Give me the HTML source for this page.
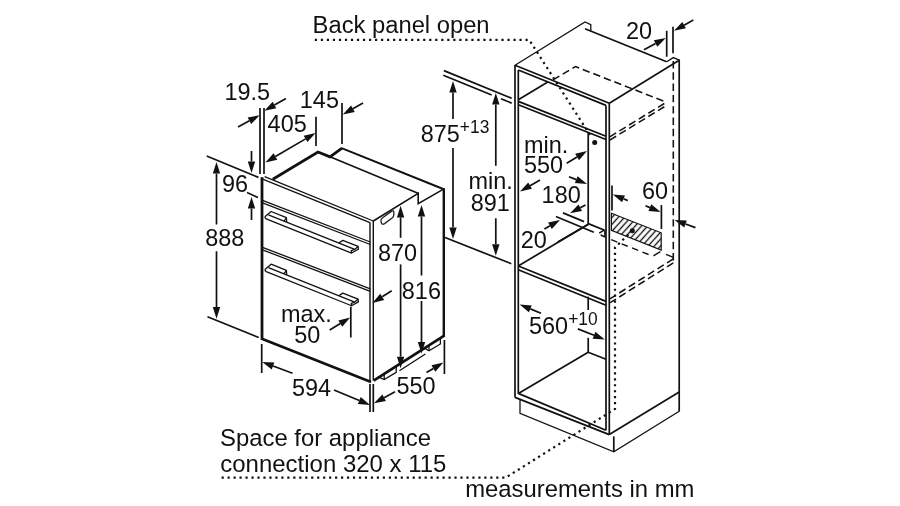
<!DOCTYPE html>
<html><head><meta charset="utf-8"><title>Oven installation dimensions</title>
<style>
html,body{margin:0;padding:0;background:#fff;}
svg{display:block;}
text{font-family:"Liberation Sans",Arial,Helvetica,sans-serif;fill:#111;}
</style></head>
<body>
<svg width="900" height="506" viewBox="0 0 900 506">
<rect width="900" height="506" fill="#fff"/>
<line x1="262" y1="177.2" x2="262" y2="339.8" stroke="#111" stroke-width="2.8" stroke-linecap="butt"/>
<line x1="261.2" y1="338.6" x2="371" y2="382" stroke="#111" stroke-width="2.7" stroke-linecap="butt"/>
<line x1="370" y1="222.4" x2="370" y2="381.5" stroke="#111" stroke-width="1.4" stroke-linecap="butt"/>
<line x1="373.3" y1="221" x2="373.3" y2="380.5" stroke="#111" stroke-width="1.4" stroke-linecap="butt"/>
<line x1="264.6" y1="176.6" x2="373.3" y2="221" stroke="#111" stroke-width="1.3" stroke-linecap="butt"/>
<line x1="262" y1="178.9" x2="370" y2="222.7" stroke="#111" stroke-width="1.3" stroke-linecap="butt"/>
<line x1="262.5" y1="200.4" x2="370.3" y2="242.01" stroke="#111" stroke-width="1.3" stroke-linecap="butt"/>
<line x1="262.5" y1="202.9" x2="370.3" y2="244.51" stroke="#111" stroke-width="1.3" stroke-linecap="butt"/>
<line x1="262.5" y1="247.3" x2="370.3" y2="288.91" stroke="#111" stroke-width="1.3" stroke-linecap="butt"/>
<line x1="262.5" y1="249.8" x2="370.3" y2="291.41" stroke="#111" stroke-width="1.3" stroke-linecap="butt"/>
<polyline points="272.8,179.2 318,152 330,156.8 342,148.2" fill="none" stroke="#111" stroke-width="2.8" stroke-linejoin="miter"/>
<polyline points="341.6,148.2 443.2,189" fill="none" stroke="#111" stroke-width="1.9" stroke-linejoin="miter"/>
<line x1="330" y1="156.8" x2="418" y2="193.2" stroke="#111" stroke-width="1.55" stroke-linecap="butt"/>
<polyline points="373.3,221 418.2,193.4 418.2,203.6 443.5,189.2" fill="none" stroke="#111" stroke-width="1.55" stroke-linejoin="miter"/>
<line x1="443.8" y1="188.2" x2="443.8" y2="336" stroke="#111" stroke-width="2.4" stroke-linecap="butt"/>
<line x1="373.6" y1="380.6" x2="444.6" y2="335.4" stroke="#111" stroke-width="2.8" stroke-linecap="butt"/>
<polyline points="379.4,377.4 384.2,379.6 396.2,372.4 396.2,366.6" fill="none" stroke="#111" stroke-width="1.3" stroke-linejoin="miter"/>
<line x1="384.2" y1="379.6" x2="384.2" y2="374.2" stroke="#111" stroke-width="1.3" stroke-linecap="butt"/>
<polyline points="425,348.4 429,350.8 440.4,344 440.4,338.4" fill="none" stroke="#111" stroke-width="1.3" stroke-linejoin="miter"/>
<line x1="429" y1="350.8" x2="429" y2="345.8" stroke="#111" stroke-width="1.3" stroke-linecap="butt"/>
<line x1="399.4" y1="370.8" x2="425.4" y2="354" stroke="#111" stroke-width="1.3" stroke-linecap="butt"/>
<path d="M382.6,217.8 L391.4,211.4 Q393.8,209.8 393.9,212.6 L393.7,215.4 Q393.6,216.8 392.4,217.7 L384.6,223.6 Q382,225.2 381.3,222.8 L380.9,220.6 Q380.8,219.2 382.6,217.8 Z" fill="none" stroke="#222" stroke-width="1.3"/>
<polyline points="351.6,253.04 266.2,218.88 265.2,218 265.2,216.6 271.1,211.5 286.4,217.7 286.7,222.18" fill="none" stroke="#111" stroke-width="1.3" stroke-linejoin="round"/>
<line x1="268.4" y1="214.86" x2="354.7" y2="249.38" stroke="#111" stroke-width="1.3" stroke-linecap="butt"/>
<line x1="283.9" y1="221.06" x2="286.2" y2="218.2" stroke="#111" stroke-width="1.3" stroke-linecap="butt"/>
<polyline points="338.9,243.06 342.8,240.4 358.1,246.4 358.4,249.2 351.6,253.04 351.3,250.6 354.7,249.38" fill="none" stroke="#111" stroke-width="1.3" stroke-linejoin="round"/>
<line x1="354.7" y1="249.38" x2="358.1" y2="246.6" stroke="#111" stroke-width="1.3" stroke-linecap="butt"/>
<polyline points="351.6,305.74 266.2,271.58 265.2,270.7 265.2,269.3 271.1,264.2 286.4,270.4 286.7,274.88" fill="none" stroke="#111" stroke-width="1.3" stroke-linejoin="round"/>
<line x1="268.4" y1="267.56" x2="354.7" y2="302.08" stroke="#111" stroke-width="1.3" stroke-linecap="butt"/>
<line x1="283.9" y1="273.76" x2="286.2" y2="270.9" stroke="#111" stroke-width="1.3" stroke-linecap="butt"/>
<polyline points="338.9,295.76 342.8,293.1 358.1,299.1 358.4,301.9 351.6,305.74 351.3,303.3 354.7,302.08" fill="none" stroke="#111" stroke-width="1.3" stroke-linejoin="round"/>
<line x1="354.7" y1="302.08" x2="358.1" y2="299.3" stroke="#111" stroke-width="1.3" stroke-linecap="butt"/>
<line x1="206.7" y1="156" x2="258.4" y2="177.4" stroke="#111" stroke-width="1.7" stroke-linecap="butt"/>
<line x1="207.5" y1="316.7" x2="258.7" y2="337.5" stroke="#111" stroke-width="1.7" stroke-linecap="butt"/>
<polygon points="216.5,162 220.2,173.6 212.8,173.6" fill="#111"/>
<line x1="216.5" y1="224.5" x2="216.5" y2="173.6" stroke="#111" stroke-width="1.7" stroke-linecap="butt"/>
<polygon points="216.5,318.7 212.8,307.1 220.2,307.1" fill="#111"/>
<line x1="216.5" y1="251.3" x2="216.5" y2="307.1" stroke="#111" stroke-width="1.7" stroke-linecap="butt"/>
<polygon points="251.5,173 247.8,161.4 255.2,161.4" fill="#111"/>
<line x1="251.5" y1="151" x2="251.5" y2="161.4" stroke="#111" stroke-width="1.7" stroke-linecap="butt"/>
<polygon points="251.5,197 255.2,208.6 247.8,208.6" fill="#111"/>
<line x1="251.5" y1="220" x2="251.5" y2="208.6" stroke="#111" stroke-width="1.7" stroke-linecap="butt"/>
<line x1="247" y1="192.6" x2="258" y2="197.6" stroke="#111" stroke-width="1.7" stroke-linecap="butt"/>
<line x1="260" y1="108" x2="260" y2="174" stroke="#111" stroke-width="1.7" stroke-linecap="butt"/>
<line x1="264" y1="108" x2="264" y2="174" stroke="#111" stroke-width="1.7" stroke-linecap="butt"/>
<polygon points="259.6,115.3 251.16,124.08 247.64,117.57" fill="#111"/>
<line x1="238" y1="127" x2="249.4" y2="120.82" stroke="#111" stroke-width="1.7" stroke-linecap="butt"/>
<polygon points="264.4,110.7 272.65,101.74 276.31,108.18" fill="#111"/>
<line x1="286" y1="98.4" x2="274.48" y2="104.96" stroke="#111" stroke-width="1.7" stroke-linecap="butt"/>
<polygon points="315.6,133 307.46,142.05 303.72,135.67" fill="#111"/>
<polygon points="265.4,162.4 273.54,153.35 277.28,159.73" fill="#111"/>
<line x1="275.41" y1="156.54" x2="305.59" y2="138.86" stroke="#111" stroke-width="1.7" stroke-linecap="butt"/>
<line x1="316" y1="116.7" x2="316" y2="146" stroke="#111" stroke-width="1.7" stroke-linecap="butt"/>
<line x1="342" y1="103" x2="342" y2="144" stroke="#111" stroke-width="1.7" stroke-linecap="butt"/>
<polygon points="342.8,114.4 351.08,105.48 354.72,111.92" fill="#111"/>
<line x1="363" y1="103" x2="352.9" y2="108.7" stroke="#111" stroke-width="1.7" stroke-linecap="butt"/>
<line x1="350.8" y1="306.7" x2="350.8" y2="337.5" stroke="#111" stroke-width="1.7" stroke-linecap="butt"/>
<polygon points="350.2,317.5 342.22,326.7 338.37,320.38" fill="#111"/>
<line x1="329.7" y1="330" x2="340.3" y2="323.54" stroke="#111" stroke-width="1.7" stroke-linecap="butt"/>
<polygon points="372.4,303 380.23,293.67 384.18,299.93" fill="#111"/>
<line x1="391.7" y1="290.8" x2="382.21" y2="296.8" stroke="#111" stroke-width="1.7" stroke-linecap="butt"/>
<line x1="261.7" y1="344" x2="261.7" y2="373" stroke="#111" stroke-width="1.7" stroke-linecap="butt"/>
<polygon points="262.2,362 274.36,362.59 271.78,369.52" fill="#111"/>
<line x1="292.5" y1="373.3" x2="273.07" y2="366.05" stroke="#111" stroke-width="1.7" stroke-linecap="butt"/>
<polygon points="370,405 357.87,403.95 360.72,397.12" fill="#111"/>
<line x1="334" y1="390" x2="359.29" y2="400.54" stroke="#111" stroke-width="1.7" stroke-linecap="butt"/>
<line x1="370" y1="384" x2="370" y2="412" stroke="#111" stroke-width="1.7" stroke-linecap="butt"/>
<line x1="373.3" y1="384" x2="373.3" y2="412" stroke="#111" stroke-width="1.7" stroke-linecap="butt"/>
<polygon points="374,403.3 382.36,394.45 385.94,400.93" fill="#111"/>
<line x1="395" y1="391.7" x2="384.15" y2="397.69" stroke="#111" stroke-width="1.7" stroke-linecap="butt"/>
<polygon points="443.4,362.6 435.26,371.66 431.52,365.27" fill="#111"/>
<line x1="426.5" y1="372.5" x2="433.39" y2="368.46" stroke="#111" stroke-width="1.7" stroke-linecap="butt"/>
<line x1="444.4" y1="340" x2="444.4" y2="374" stroke="#111" stroke-width="1.7" stroke-linecap="butt"/>
<polygon points="400.6,205.8 404.3,217.4 396.9,217.4" fill="#111"/>
<line x1="400.6" y1="237.8" x2="400.6" y2="217.4" stroke="#111" stroke-width="1.7" stroke-linecap="butt"/>
<polygon points="400.6,368.3 396.9,356.7 404.3,356.7" fill="#111"/>
<line x1="400.6" y1="264.4" x2="400.6" y2="356.7" stroke="#111" stroke-width="1.7" stroke-linecap="butt"/>
<polygon points="421.5,205 425.2,216.6 417.8,216.6" fill="#111"/>
<line x1="421.5" y1="275.5" x2="421.5" y2="216.6" stroke="#111" stroke-width="1.7" stroke-linecap="butt"/>
<polygon points="421.5,353.6 417.8,342 425.2,342" fill="#111"/>
<line x1="421.5" y1="301" x2="421.5" y2="342" stroke="#111" stroke-width="1.7" stroke-linecap="butt"/>
<line x1="443.9" y1="70.6" x2="511.7" y2="98.3" stroke="#111" stroke-width="1.7" stroke-linecap="butt"/>
<line x1="443.3" y1="75.3" x2="491.7" y2="95" stroke="#111" stroke-width="1.7" stroke-linecap="butt"/>
<line x1="501" y1="98.8" x2="511.7" y2="103.1" stroke="#111" stroke-width="1.7" stroke-linecap="butt"/>
<polygon points="453,81 456.7,92.6 449.3,92.6" fill="#111"/>
<line x1="453" y1="119" x2="453" y2="92.6" stroke="#111" stroke-width="1.7" stroke-linecap="butt"/>
<polygon points="453,239 449.3,227.4 456.7,227.4" fill="#111"/>
<line x1="453" y1="148" x2="453" y2="227.4" stroke="#111" stroke-width="1.7" stroke-linecap="butt"/>
<polygon points="495.8,93 499.5,104.6 492.1,104.6" fill="#111"/>
<line x1="495.8" y1="165.8" x2="495.8" y2="104.6" stroke="#111" stroke-width="1.7" stroke-linecap="butt"/>
<polygon points="495.8,255.8 492.1,244.2 499.5,244.2" fill="#111"/>
<line x1="495.8" y1="218.3" x2="495.8" y2="244.2" stroke="#111" stroke-width="1.7" stroke-linecap="butt"/>
<line x1="445" y1="237.5" x2="511.3" y2="263.7" stroke="#111" stroke-width="1.7" stroke-linecap="butt"/>
<line x1="515" y1="65" x2="515" y2="397.4" stroke="#111" stroke-width="1.7" stroke-linecap="butt"/>
<line x1="518.3" y1="70" x2="518.3" y2="394" stroke="#111" stroke-width="1.7" stroke-linecap="butt"/>
<polyline points="515,65.3 585,22 590.8,24.6 590.8,31.2" fill="none" stroke="#111" stroke-width="1.3" stroke-linejoin="miter"/>
<line x1="585" y1="28.7" x2="666.7" y2="61.7" stroke="#111" stroke-width="1.7" stroke-linecap="butt"/>
<polyline points="666.7,61.7 673.3,57.6 679.2,60.2" fill="none" stroke="#111" stroke-width="1.3" stroke-linejoin="miter"/>
<line x1="679.2" y1="59.6" x2="679.2" y2="411.4" stroke="#111" stroke-width="1.7" stroke-linecap="butt"/>
<line x1="679.2" y1="60.2" x2="609.3" y2="103.3" stroke="#111" stroke-width="1.7" stroke-linecap="butt"/>
<line x1="515" y1="65.3" x2="609.3" y2="103.3" stroke="#111" stroke-width="1.7" stroke-linecap="butt"/>
<line x1="518.3" y1="70" x2="606" y2="105.4" stroke="#111" stroke-width="1.7" stroke-linecap="butt"/>
<line x1="606" y1="105.4" x2="606" y2="430.2" stroke="#111" stroke-width="1.7" stroke-linecap="butt"/>
<line x1="609.3" y1="103.3" x2="609.3" y2="434.6" stroke="#111" stroke-width="1.7" stroke-linecap="butt"/>
<line x1="518.3" y1="101.4" x2="606" y2="136.2" stroke="#111" stroke-width="1.7" stroke-linecap="butt"/>
<line x1="518.3" y1="104.8" x2="606" y2="139.5" stroke="#111" stroke-width="1.7" stroke-linecap="butt"/>
<line x1="518.3" y1="99.8" x2="547.8" y2="82" stroke="#111" stroke-width="1.7" stroke-linecap="butt"/>
<polyline points="553,79.8 575.4,66.6 666.4,102.2" fill="none" stroke="#111" stroke-width="1.55" stroke-linejoin="miter" stroke-dasharray="7.4 3.9"/>
<line x1="609.8" y1="136.8" x2="666.4" y2="102.2" stroke="#111" stroke-width="1.55" stroke-linecap="butt" stroke-dasharray="7.4 3.9"/>
<line x1="609.8" y1="140.1" x2="666.4" y2="105.5" stroke="#111" stroke-width="1.55" stroke-linecap="butt" stroke-dasharray="7.4 3.9"/>
<line x1="673.3" y1="61" x2="673.3" y2="263.5" stroke="#111" stroke-width="1.55" stroke-linecap="butt" stroke-dasharray="7.4 3.9"/>
<polyline points="314.8,39.8 529.2,39.8 592,138.2" fill="none" stroke="#111" stroke-width="2.2" stroke-linejoin="miter" stroke-dasharray="2.2 3.82"/>
<line x1="588.2" y1="132" x2="588.2" y2="224.4" stroke="#111" stroke-width="1.7" stroke-linecap="butt"/>
<line x1="588.2" y1="296.7" x2="588.2" y2="310" stroke="#111" stroke-width="1.7" stroke-linecap="butt"/>
<line x1="588.2" y1="337.8" x2="588.2" y2="352.2" stroke="#111" stroke-width="1.7" stroke-linecap="butt"/>
<circle cx="594.7" cy="142.6" r="2.5" fill="#111"/>
<line x1="518.6" y1="265.8" x2="588.3" y2="224.2" stroke="#111" stroke-width="1.7" stroke-linecap="butt"/>
<line x1="518.3" y1="266" x2="606" y2="301.4" stroke="#111" stroke-width="1.7" stroke-linecap="butt"/>
<line x1="518.3" y1="269.8" x2="606" y2="305.2" stroke="#111" stroke-width="1.7" stroke-linecap="butt"/>
<line x1="588.3" y1="223.6" x2="604.6" y2="230.3" stroke="#111" stroke-width="1.7" stroke-linecap="butt"/>
<line x1="604.2" y1="230.2" x2="599.2" y2="233.2" stroke="#111" stroke-width="1.4" stroke-linecap="butt"/>
<line x1="600.6" y1="235" x2="605.3" y2="237" stroke="#111" stroke-width="1.4" stroke-linecap="butt"/>
<line x1="604.8" y1="230.3" x2="604.9" y2="236.8" stroke="#111" stroke-width="1.4" stroke-linecap="butt"/>
<line x1="611.2" y1="239.7" x2="652.8" y2="256.2" stroke="#111" stroke-width="1.4" stroke-linecap="butt" stroke-dasharray="6.6 4.6"/>
<line x1="653.4" y1="255.9" x2="660.4" y2="251.6" stroke="#111" stroke-width="1.4" stroke-linecap="butt"/>
<line x1="666" y1="254.4" x2="673.3" y2="257.3" stroke="#111" stroke-width="1.4" stroke-linecap="butt"/>
<line x1="673.3" y1="258.9" x2="610" y2="298.8" stroke="#111" stroke-width="1.55" stroke-linecap="butt" stroke-dasharray="7.4 3.9"/>
<line x1="673.3" y1="262.9" x2="610.2" y2="302.7" stroke="#111" stroke-width="1.55" stroke-linecap="butt" stroke-dasharray="7.4 3.9"/>
<defs><pattern id="h" width="4.6" height="4.6" patternUnits="userSpaceOnUse" patternTransform="rotate(-48)"><line x1="-1" y1="2.3" x2="5.6" y2="2.3" stroke="#111" stroke-width="1.35"/></pattern></defs>
<polygon points="611.4,213.3 661.2,232.8 661.2,250 611.4,230.4" fill="url(#h)" stroke="#111" stroke-width="1.2" stroke-linejoin="miter"/>
<circle cx="632.3" cy="230.7" r="2.5" fill="#111"/>
<polyline points="221.6,477.7 505.6,477.7 615,409 615,247.5 632.3,230.7" fill="none" stroke="#111" stroke-width="2.2" stroke-linejoin="miter" stroke-dasharray="2.2 3.77"/>
<line x1="588.2" y1="352.2" x2="518.4" y2="393.4" stroke="#111" stroke-width="1.7" stroke-linecap="butt"/>
<line x1="588.2" y1="352.2" x2="606" y2="359.2" stroke="#111" stroke-width="1.7" stroke-linecap="butt"/>
<line x1="515" y1="397.4" x2="609.3" y2="434.6" stroke="#111" stroke-width="1.7" stroke-linecap="butt"/>
<line x1="518.3" y1="393.4" x2="606" y2="430.2" stroke="#111" stroke-width="1.7" stroke-linecap="butt"/>
<polyline points="520,400 520,413.3 613.8,451.8 679.2,411.2" fill="none" stroke="#111" stroke-width="1.3" stroke-linejoin="miter"/>
<line x1="613.8" y1="436.4" x2="613.8" y2="451.8" stroke="#111" stroke-width="1.7" stroke-linecap="butt"/>
<line x1="609.3" y1="434.6" x2="679.2" y2="392" stroke="#111" stroke-width="1.7" stroke-linecap="butt"/>
<line x1="666.7" y1="30.8" x2="666.7" y2="56.7" stroke="#111" stroke-width="1.7" stroke-linecap="butt"/>
<line x1="673" y1="26.7" x2="673" y2="53.3" stroke="#111" stroke-width="1.7" stroke-linecap="butt"/>
<polygon points="665.8,38 657.33,46.75 653.83,40.23" fill="#111"/>
<line x1="644" y1="49.7" x2="655.58" y2="43.49" stroke="#111" stroke-width="1.7" stroke-linecap="butt"/>
<polygon points="674,30.8 682.32,21.91 685.93,28.36" fill="#111"/>
<line x1="693.3" y1="20" x2="684.12" y2="25.14" stroke="#111" stroke-width="1.7" stroke-linecap="butt"/>
<polygon points="674.6,220 686.77,220.49 684.24,227.44" fill="#111"/>
<line x1="695.5" y1="227.6" x2="685.5" y2="223.96" stroke="#111" stroke-width="1.7" stroke-linecap="butt"/>
<line x1="612" y1="185.6" x2="612" y2="210.6" stroke="#111" stroke-width="1.7" stroke-linecap="butt"/>
<polygon points="612.8,194.4 624.93,195.41 622.11,202.25" fill="#111"/>
<line x1="627.8" y1="200.6" x2="623.52" y2="198.83" stroke="#111" stroke-width="1.7" stroke-linecap="butt"/>
<line x1="661.4" y1="205" x2="661.4" y2="229" stroke="#111" stroke-width="1.7" stroke-linecap="butt"/>
<polygon points="660.6,212 648.46,211.02 651.27,204.17" fill="#111"/>
<line x1="645.5" y1="205.8" x2="649.87" y2="207.59" stroke="#111" stroke-width="1.7" stroke-linecap="butt"/>
<polygon points="587,184 574.86,183.07 577.64,176.21" fill="#111"/>
<line x1="569" y1="176.7" x2="576.25" y2="179.64" stroke="#111" stroke-width="1.7" stroke-linecap="butt"/>
<polygon points="570,213.2 578.52,204.51 581.98,211.05" fill="#111"/>
<line x1="585.5" y1="205" x2="580.25" y2="207.78" stroke="#111" stroke-width="1.7" stroke-linecap="butt"/>
<line x1="563" y1="212.9" x2="584" y2="221.6" stroke="#111" stroke-width="1.7" stroke-linecap="butt"/>
<line x1="555.9" y1="216.5" x2="593.8" y2="232.3" stroke="#111" stroke-width="1.7" stroke-linecap="butt"/>
<polygon points="560,220 551.8,229 548.1,222.59" fill="#111"/>
<line x1="544.4" y1="229" x2="549.95" y2="225.8" stroke="#111" stroke-width="1.7" stroke-linecap="butt"/>
<line x1="557.8" y1="242" x2="588" y2="224.4" stroke="#111" stroke-width="1.7" stroke-linecap="butt"/>
<polygon points="587,151 579,160.18 575.16,153.85" fill="#111"/>
<line x1="566.7" y1="163.3" x2="577.08" y2="157.01" stroke="#111" stroke-width="1.7" stroke-linecap="butt"/>
<polygon points="520,191.4 528.25,182.44 531.91,188.87" fill="#111"/>
<line x1="540" y1="180" x2="530.08" y2="185.66" stroke="#111" stroke-width="1.7" stroke-linecap="butt"/>
<polygon points="519.6,304.4 531.73,305.44 528.89,312.27" fill="#111"/>
<line x1="541" y1="313.3" x2="530.31" y2="308.85" stroke="#111" stroke-width="1.7" stroke-linecap="butt"/>
<polygon points="604.8,339.5 592.65,338.7 595.35,331.82" fill="#111"/>
<line x1="577.8" y1="328.9" x2="594" y2="335.26" stroke="#111" stroke-width="1.7" stroke-linecap="butt"/>
<g opacity="0.999">
<text transform="translate(312.6 33.4) scale(1.003 1)" font-size="23.7">Back panel open</text>
<text transform="translate(224.4 99.9) scale(0.99 1)" font-size="23.7">19.5</text>
<text transform="translate(299.8 108.3) scale(0.99 1)" font-size="23.7">145</text>
<text transform="translate(267.6 132) scale(0.99 1)" font-size="23.7">405</text>
<text transform="translate(222 191.6) scale(0.99 1)" font-size="23.7">96</text>
<text transform="translate(205.2 246.2) scale(0.99 1)" font-size="23.7">888</text>
<text transform="translate(378 260.8) scale(0.99 1)" font-size="23.7">870</text>
<text transform="translate(401.8 298.8) scale(0.99 1)" font-size="23.7">816</text>
<text transform="translate(281 321.8) scale(0.99 1)" font-size="23.7">max.</text>
<text transform="translate(294.3 343) scale(0.99 1)" font-size="23.7">50</text>
<text transform="translate(292 396) scale(0.99 1)" font-size="23.7">594</text>
<text transform="translate(396.5 394.3) scale(0.99 1)" font-size="23.7">550</text>
<text transform="translate(420.7 142.3) scale(0.99 1)" font-size="23.7">875<tspan dy="-9.2" font-size="17.6">+13</tspan></text>
<text transform="translate(468.5 189.3) scale(0.99 1)" font-size="23.7">min.</text>
<text transform="translate(470.7 211) scale(0.99 1)" font-size="23.7">891</text>
<text transform="translate(524 152.6) scale(0.99 1)" font-size="23.7">min.</text>
<text transform="translate(524 173) scale(0.99 1)" font-size="23.7">550</text>
<text transform="translate(541.6 202.6) scale(0.99 1)" font-size="23.7">180</text>
<text transform="translate(520.7 247.8) scale(0.99 1)" font-size="23.7">20</text>
<text transform="translate(642 198.8) scale(0.99 1)" font-size="23.7">60</text>
<text transform="translate(626 38.5) scale(0.99 1)" font-size="23.7">20</text>
<text transform="translate(529 333.7) scale(0.99 1)" font-size="23.7">560<tspan dy="-8.3" font-size="17.6">+10</tspan></text>
<text transform="translate(220 446.1) scale(1.008 1)" font-size="23.7">Space for appliance</text>
<text transform="translate(220.3 471.6) scale(1.012 1)" font-size="23.7">connection 320 x 115</text>
<text transform="translate(465.2 496.6) scale(1.006 1)" font-size="23.7">measurements in mm</text>
</g>
</svg>
</body></html>
